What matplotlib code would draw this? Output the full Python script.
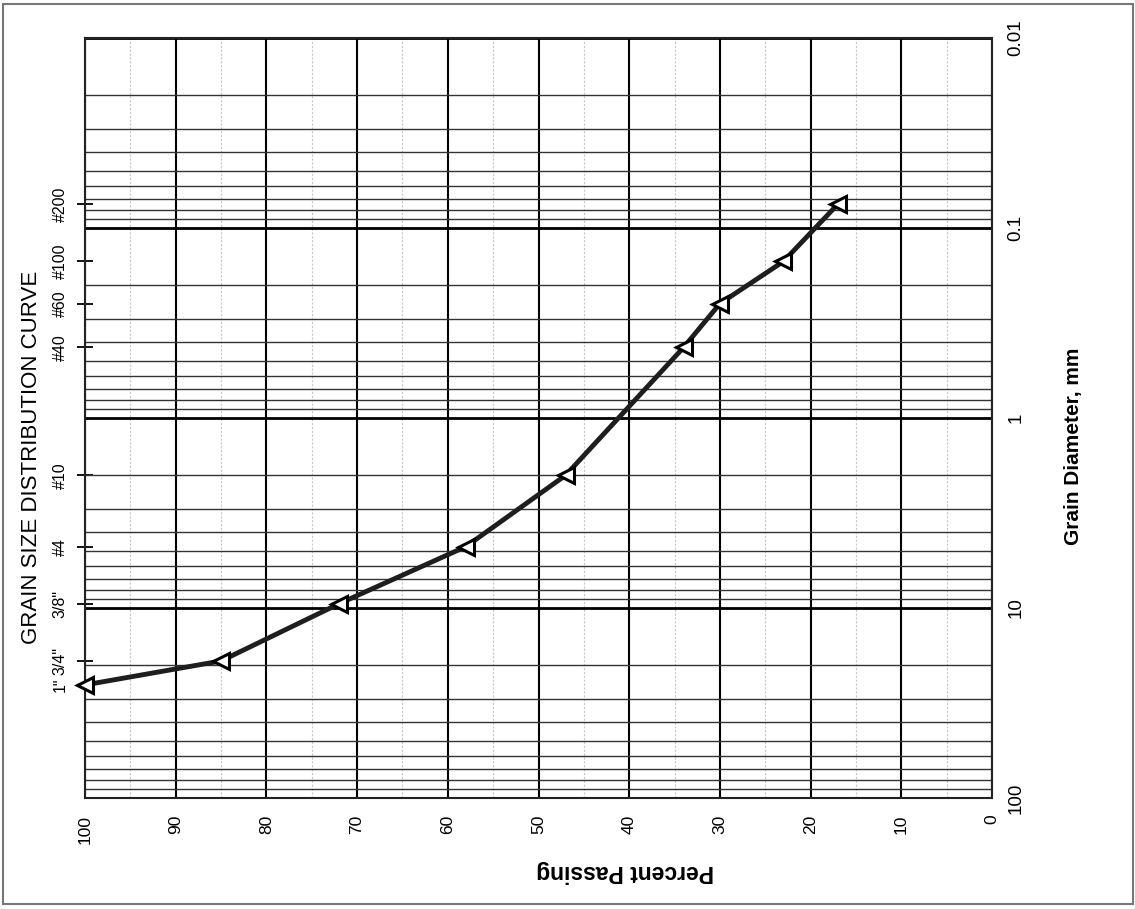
import matplotlib
matplotlib.use("Agg")
import matplotlib.pyplot as plt
from matplotlib.ticker import FixedLocator, LogLocator, NullLocator, FixedFormatter, NullFormatter, MultipleLocator
from matplotlib.patches import Rectangle

plt.rcParams['font.family'] = ['Liberation Sans', 'DejaVu Sans']

# Data: grain diameter (mm) vs percent passing
diameter_mm = [25.4, 19.0, 9.5, 4.75, 2.0, 0.425, 0.25, 0.15, 0.075]
percent_passing = [100, 85, 72, 58, 47, 34, 30, 23, 17]

# Sieve labels (left side)
sieve_mm = [25.4, 19.0, 9.5, 4.75, 2.0, 0.425, 0.25, 0.15, 0.075]
sieve_labels = ['1"', '3/4"', '3/8"', '#4', '#10', '#40', '#60', '#100', '#200']

# Percent ticks and diameter decade ticks
percent_ticks = [100, 90, 80, 70, 60, 50, 40, 30, 20, 10, 0]
diam_ticks = [0.01, 0.1, 1, 10, 100]
diam_labels = ['0.01', '0.1', '1', '10', '100']

fig = plt.figure(figsize=(11.35, 9.09), dpi=100)
W, H = 1135, 909
ax = fig.add_axes([85 / W, 1 - 798 / H, (992 - 85) / W, (798 - 38) / H])

ax.set_xlim(100, 0)
ax.set_yscale('log')
ax.set_ylim(100, 0.01)

# x ticks
ax.xaxis.set_major_locator(FixedLocator(percent_ticks))
ax.xaxis.set_minor_locator(MultipleLocator(5))
ax.tick_params(axis='x', which='both', length=0)
ax.tick_params(axis='x', which='major', labelsize=12.5, pad=12, labelrotation=90)

# y ticks (right side decades)
ax.yaxis.tick_right()
ax.yaxis.set_major_locator(FixedLocator(diam_ticks))
ax.yaxis.set_major_formatter(FixedFormatter(diam_labels))
ax.yaxis.set_minor_locator(LogLocator(base=10, subs=range(2, 10)))
ax.yaxis.set_minor_formatter(NullFormatter())
ax.tick_params(axis='y', which='both', length=0)
ax.tick_params(axis='y', which='major', labelsize=13.5, pad=11, labelrotation=90)
for lab in ax.get_yticklabels():
    lab.set_va('center')

# grids
ax.grid(axis='x', which='major', color='black', lw=1.5)
ax.grid(axis='x', which='minor', color='#c3c6d6', lw=0.8, ls=(0, (2, 1.5)))
ax.grid(axis='y', which='major', color='black', lw=2.0)
ax.grid(axis='y', which='minor', color='#333333', lw=1.0)
ax.set_axisbelow(True)
for sp in ax.spines.values():
    sp.set_linewidth(1.5)
    sp.set_color('#222222')

# data
ax.plot(percent_passing, diameter_mm, color='#1e1e1e', lw=3.5, marker='<', ms=12,
        mfc='white', mec='black', mew=2.2, zorder=5, clip_on=False)

# sieve axis on the left
sec = ax.secondary_yaxis('left')
sec.set_yticks(sieve_mm, labels=sieve_labels)
sec.yaxis.set_minor_locator(NullLocator())
sec.tick_params(axis='y', which='major', direction='inout', length=11, width=1.3,
                labelsize=11.5, pad=7, labelrotation=90)
for lab in sec.get_yticklabels():
    lab.set_va('center')
sec.spines['left'].set_visible(False)

# axis titles
fig.text(625 / W, 1 - 871 / H, 'Percent Passing', fontsize=16.5, fontweight='bold',
         rotation=180, ha='center', va='center')
fig.text(1074 / W, 1 - 446 / H, 'Grain Diameter, mm', fontsize=15, fontweight='bold',
         rotation=90, ha='center', va='center')
fig.text(32 / W, 1 - 457 / H, 'GRAIN SIZE DISTRIBUTION CURVE', fontsize=16,
         rotation=90, ha='center', va='center')

# page border
fig.patches.append(Rectangle((3 / W, 1 - 904 / H), 1130 / W, 900 / H, transform=fig.transFigure,
                             fill=False, ec='#777777', lw=1.5))

fig.savefig('out.png', dpi=100)
